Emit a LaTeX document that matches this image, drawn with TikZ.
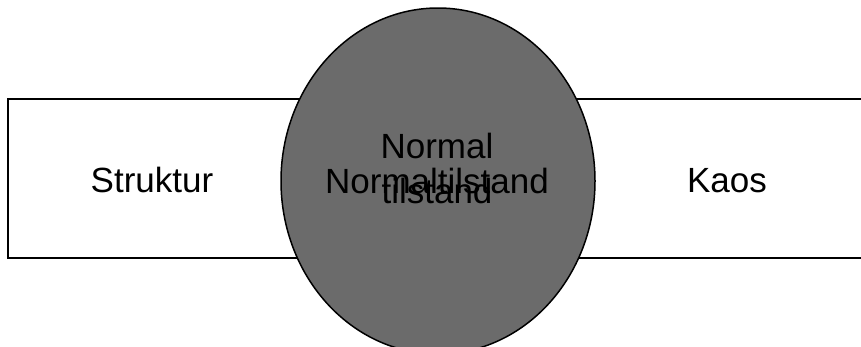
\documentclass[tikz,border=0pt]{standalone}
\usepackage{fontspec}
\setmainfont{Liberation Sans}
\usetikzlibrary{shapes.geometric}
\tikzset{
  lbl/.style={anchor=base, inner sep=0pt, font=\fontsize{35}{42}\selectfont, text=black},
  band/.style={draw=black, line width=2.5pt, fill=white},
  blob/.style={ellipse, draw=black, line width=1.5pt, fill=black!58, minimum width=314pt, minimum height=346pt, inner sep=0pt}
}
\begin{document}
\begin{tikzpicture}[x=1pt,y=-1pt]
\useasboundingbox (0,0) rectangle (861,346);
\clip (0,0) rectangle (861,346);
\fill[white] (0,0) rectangle (861,346);
\draw[band] (8,99) rectangle (880,258);
\node[blob] (circ) at (438,181) {};
\node[lbl] (struktur) at (152,192) {Struktur};
\node[lbl] (kaos) at (727,192) {Kaos};
\node[lbl] (normal) at (437,158) {Normal};
\node[lbl] (tilstand) at (437,203) {tilstand};
\node[lbl] (normaltilstand) at (437,193) {Normaltilstand};
\end{tikzpicture}
\end{document}
